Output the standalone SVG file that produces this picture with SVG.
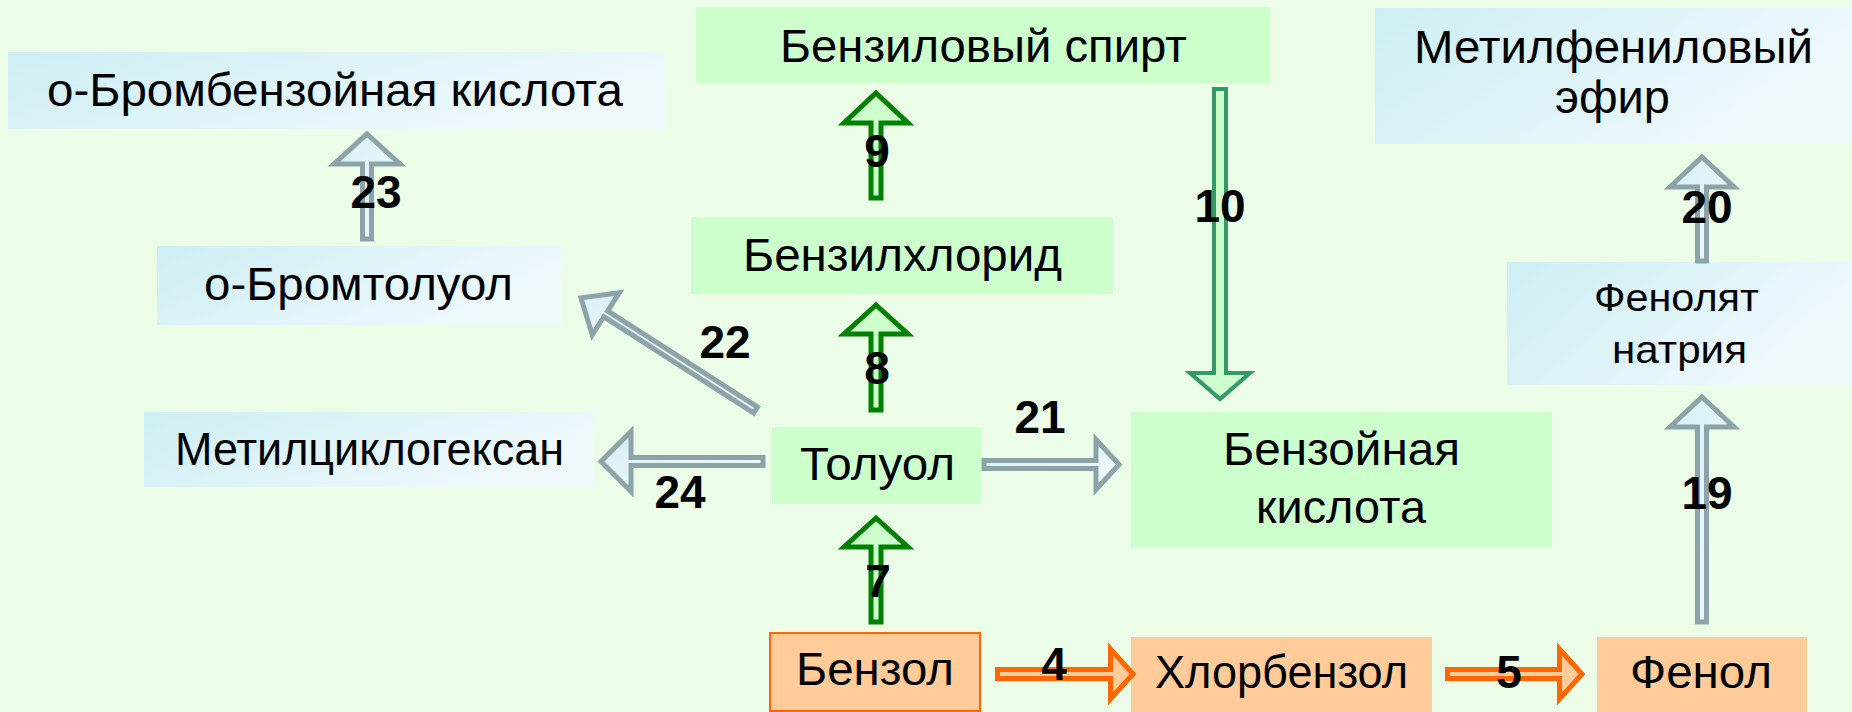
<svg xmlns="http://www.w3.org/2000/svg" width="1852" height="712" viewBox="0 0 1852 712">
<defs>
<linearGradient id="gBlue" x1="0" y1="0" x2="1" y2="0.4">
<stop offset="0" stop-color="#CDEEF4"/>
<stop offset="1" stop-color="#EFF9FC"/>
</linearGradient>
<linearGradient id="gGray" x1="0" y1="0" x2="1" y2="1">
<stop offset="0" stop-color="#D6EEF5"/>
<stop offset="1" stop-color="#F4FBFD"/>
</linearGradient>
<style>
.nt{font-family:"Liberation Sans",Arial,sans-serif;font-size:46px;fill:#000}
.ns{font-family:"Liberation Sans",Arial,sans-serif;font-size:39px;fill:#000}
.lb{font-family:"Liberation Sans",Arial,sans-serif;font-size:46px;font-weight:bold;fill:#000;text-anchor:middle}
.green{fill:#CCFFCC}
.blue{fill:url(#gBlue)}
.orange{fill:#FFCC99}
.ag{fill:#CCFFCC;stroke:#008000;stroke-width:5}
.at{fill:#CCFFCC;stroke:#339966;stroke-width:4}
.ay{fill:url(#gGray);stroke:#8CA4A8;stroke-width:5}
.ao{fill:#FFCC99;stroke:#FF6600;stroke-width:5}
</style>
</defs>
<rect x="0" y="0" width="1852" height="712" fill="#EBFDE6"/>

<g id="n-obromobenzoic">
<rect class="blue" x="8" y="52" width="657" height="77"/>
<text class="nt" x="47" y="106" textLength="576" lengthAdjust="spacingAndGlyphs">о-Бромбензойная кислота</text>
</g>
<g id="n-benzylalcohol">
<rect class="green" x="696" y="7" width="574" height="76"/>
<text class="nt" x="780" y="62" textLength="407" lengthAdjust="spacingAndGlyphs">Бензиловый спирт</text>
</g>
<g id="n-methylphenylether">
<rect class="blue" x="1375" y="8" width="477" height="136"/>
<text class="nt" x="1414" y="63" textLength="399" lengthAdjust="spacingAndGlyphs">Метилфениловый</text>
<text class="nt" x="1555" y="113" textLength="115" lengthAdjust="spacingAndGlyphs">эфир</text>
</g>
<g id="n-benzylchloride">
<rect class="green" x="691" y="217" width="422" height="77"/>
<text class="nt" x="743" y="271" textLength="319" lengthAdjust="spacingAndGlyphs">Бензилхлорид</text>
</g>
<g id="n-obromotoluene">
<rect class="blue" x="157" y="246" width="405" height="79"/>
<text class="nt" x="204" y="300" textLength="309" lengthAdjust="spacingAndGlyphs">о-Бромтолуол</text>
</g>
<g id="n-methylcyclohexane">
<rect class="blue" x="144" y="412" width="450" height="75"/>
<text class="nt" x="175" y="465" textLength="389" lengthAdjust="spacingAndGlyphs">Метилциклогексан</text>
</g>
<g id="n-toluene">
<rect class="green" x="772" y="427" width="209" height="77"/>
<text class="nt" x="800" y="480" textLength="155" lengthAdjust="spacingAndGlyphs">Толуол</text>
</g>
<g id="n-benzoicacid">
<rect class="green" x="1131" y="412" width="421" height="135"/>
<text class="nt" x="1223" y="465" textLength="237" lengthAdjust="spacingAndGlyphs">Бензойная</text>
<text class="nt" x="1256" y="523" textLength="170" lengthAdjust="spacingAndGlyphs">кислота</text>
</g>
<g id="n-sodiumphenolate">
<rect class="blue" x="1507" y="262" width="345" height="123"/>
<text class="ns" x="1594" y="311" textLength="165" lengthAdjust="spacingAndGlyphs">Фенолят</text>
<text class="ns" x="1612" y="363" textLength="135" lengthAdjust="spacingAndGlyphs">натрия</text>
</g>
<g id="n-benzene">
<rect class="orange" x="770" y="633" width="210" height="78" stroke="#FF6600" stroke-width="2"/>
<text class="nt" x="796" y="685" textLength="158" lengthAdjust="spacingAndGlyphs">Бензол</text>
</g>
<g id="n-chlorobenzene">
<rect class="orange" x="1131" y="637" width="301" height="75"/>
<text class="nt" x="1155" y="688" textLength="253" lengthAdjust="spacingAndGlyphs">Хлорбензол</text>
</g>
<g id="n-phenol">
<rect class="orange" x="1597" y="637" width="210" height="75"/>
<text class="nt" x="1630" y="688" textLength="142" lengthAdjust="spacingAndGlyphs">Фенол</text>
</g>

<g id="connectors">
<path class="ag" d="M876,93 L908,123 L881,123 L881,198 L871,198 L871,123 L844,123 Z"/>
<path class="ag" d="M876,305 L908,334 L881,334 L881,410 L871,410 L871,334 L844,334 Z"/>
<path class="ag" d="M876,518 L908,547 L881,547 L881,622 L871,622 L871,547 L844,547 Z"/>
<path class="at" d="M1214,89 L1226,89 L1226,373 L1250,373 L1220,399 L1190,373 L1214,373 Z"/>
<path class="ay" d="M367,134 L400,164 L371.5,164 L371.5,239 L362.5,239 L362.5,164 L334,164 Z"/>
<path class="ay" d="M1702,157 L1734,187 L1706.5,187 L1706.5,261 L1697.5,261 L1697.5,187 L1670,187 Z"/>
<path class="ay" d="M1702,397 L1734,427 L1706.5,427 L1706.5,622 L1697.5,622 L1697.5,427 L1670,427 Z"/>
<path class="ay" d="M984,460.5 L1096,460.5 L1096,439.5 L1119,464.5 L1096,489.5 L1096,468.5 L984,468.5 Z"/>
<path class="ay" d="M601,461.5 L631,431.5 L631,457.5 L763,457.5 L763,465.5 L631,465.5 L631,491.5 Z"/>
<path class="ay" transform="translate(578,296) rotate(32.7)" d="M3.5,0 L33,-25 L33,-3.5 L211,-3.5 L211,3.5 L33,3.5 L33,25 Z"/>
<path class="ao" d="M997.5,669.5 L1110.5,669.5 L1110.5,649 L1133,674 L1110.5,699 L1110.5,678.5 L997.5,678.5 Z"/>
<path class="ao" d="M1447.5,669.5 L1559.5,669.5 L1559.5,649 L1582,674 L1559.5,699 L1559.5,678.5 L1447.5,678.5 Z"/>
</g>

<g id="labels">
<text class="lb" x="376" y="208">23</text>
<text class="lb" x="877" y="167">9</text>
<text class="lb" x="1220" y="222">10</text>
<text class="lb" x="1707" y="223">20</text>
<text class="lb" x="725" y="358">22</text>
<text class="lb" x="877" y="384">8</text>
<text class="lb" x="1040" y="433">21</text>
<text class="lb" x="680" y="508">24</text>
<text class="lb" x="1707" y="509">19</text>
<text class="lb" x="878" y="597">7</text>
<text class="lb" x="1054" y="680">4</text>
<text class="lb" x="1509" y="688">5</text>
</g>
</svg>
